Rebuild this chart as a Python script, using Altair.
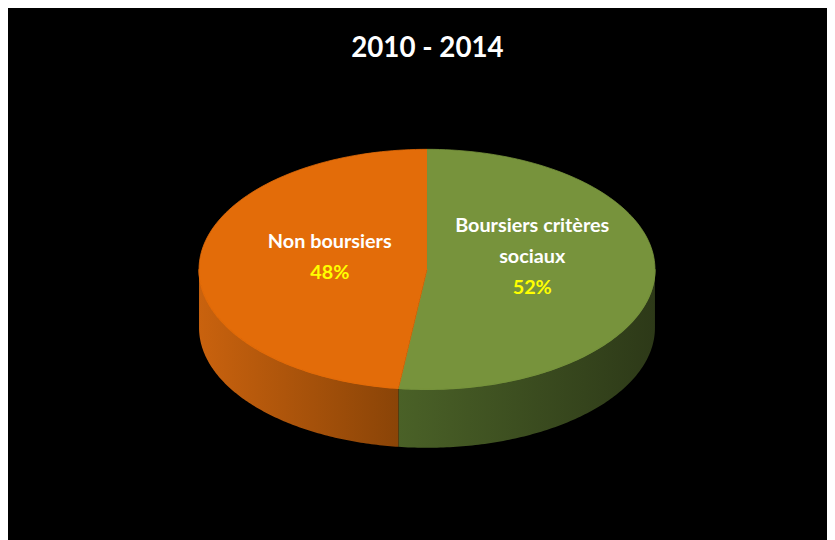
import altair as alt
import pandas as pd

# ---- data ----
categories = ["Boursiers critères sociaux", "Non boursiers"]
values = [52, 48]
label_lines = ["Boursiers critères|sociaux", "Non boursiers"]

# ---- style ----
top_colors = ["#77933C", "#E36C09"]
rim_colors = ["#8DAA50", "#F58A33"]
side_gradients = {
    "Boursiers critères sociaux": ["#4A6127", "#2D3918"],
    "Non boursiers": ["#C9620E", "#8A4407"],
}
FONT = "Lato, Roboto, sans-serif"

# geometry of the tilted pie (reference pixels)
CX, CY, RX, RY, DEPTH = 427, 269, 228, 119, 58
N = 120
S = 835 / 843          # page is shrunk to the window width
VIEW_TOP = 75          # layout y of the plot area's top

df = pd.DataFrame({"category": categories, "value": values,
                   "label": label_lines, "order": list(range(len(categories)))})

xs = alt.Scale(domain=[8 * S, 835 * S], zero=False, nice=False)
ys = alt.Scale(domain=[VIEW_TOP * S, 540 * S], reverse=True, zero=False, nice=False)

base = alt.Chart(df).transform_joinaggregate(
    total="sum(value)"
).transform_window(
    cum="sum(value)", sort=[alt.SortField("order")], frame=[None, 0]
).transform_calculate(
    a1="2*PI*datum.cum/datum.total",
    a0="2*PI*(datum.cum-datum.value)/datum.total",
)

front = base.transform_calculate(
    s0="max(datum.a0, PI/2)", s1="min(datum.a1, 3*PI/2)"
).transform_filter("datum.s1 > datum.s0")

# side (front wall) of each slice
side_base = front.transform_calculate(
    k=f"sequence(0, {2 * N + 2})"
).transform_flatten(["k"]).transform_calculate(
    j=f"datum.k <= {N} ? datum.k : {2 * N + 1} - datum.k",
).transform_calculate(
    t=f"datum.s0 + (datum.s1 - datum.s0) * datum.j / {N}",
).transform_calculate(
    px=f"{CX} + {RX} * sin(datum.t)",
    py=f"{CY} - {RY} * cos(datum.t) + (datum.k <= {N} ? 0 : {DEPTH})",
)

enc_xy = dict(x=alt.X("px:Q", scale=xs, axis=None), y=alt.Y("py:Q", scale=ys, axis=None))

side_layers = []
for cat in categories:
    c0, c1 = side_gradients[cat]
    side_layers.append(
        side_base.transform_filter(alt.datum.category == cat).mark_line(
            filled=True,
            fill=alt.Gradient(gradient="linear", x1=0, x2=1, y1=0, y2=0,
                              stops=[alt.GradientStop(color=c0, offset=0),
                                     alt.GradientStop(color=c1, offset=1)]),
            strokeWidth=0,
        ).encode(order=alt.Order("k:Q"), detail="category:N", **enc_xy)
    )

# top face
top = base.transform_calculate(
    i=f"sequence(-1, {N + 1})"
).transform_flatten(["i"]).transform_calculate(
    t=f"datum.a0 + (datum.a1 - datum.a0) * max(datum.i, 0) / {N}",
).transform_calculate(
    px=f"datum.i < 0 ? {CX} : {CX} + {RX} * sin(datum.t)",
    py=f"datum.i < 0 ? {CY} : {CY} - {RY} * cos(datum.t)",
).mark_line(filled=True, strokeWidth=0.8).encode(
    order=alt.Order("i:Q"),
    color=alt.Color("category:N", scale=alt.Scale(domain=categories, range=top_colors), legend=None),
    stroke=alt.Stroke("category:N", scale=alt.Scale(domain=categories, range=top_colors), legend=None),
    **enc_xy,
)

# light rim along the front edge of the top face
rim = front.transform_calculate(
    k=f"sequence(0, {N + 1})"
).transform_flatten(["k"]).transform_calculate(
    t=f"datum.s0 + (datum.s1 - datum.s0) * datum.k / {N}",
).transform_calculate(
    px=f"{CX} + {RX} * sin(datum.t)",
    py=f"{CY} - {RY} * cos(datum.t)",
).mark_line(strokeWidth=1.3, opacity=0.9).encode(
    order=alt.Order("k:Q"),
    color=alt.Color("category:N", scale=alt.Scale(domain=categories, range=rim_colors), legend=None),
    **enc_xy,
)

# labels
LH = 31
lab = base.transform_calculate(
    mid="(datum.a0 + datum.a1) / 2",
    n="length(split(datum.label, '|'))",
).transform_calculate(
    lx=f"{CX} + 4 + {RX} * 0.445 * sin(datum.mid)",
    ly0=f"{CY} - 12 - datum.n * {LH} / 2",
).transform_calculate(
    ly1=f"datum.ly0 + datum.n * {LH}",
    pct="format(datum.value / datum.total, '.0%')",
)

name_text = lab.mark_text(font=FONT, fontSize=20, fontWeight="bold", color="white",
                          lineBreak="|", lineHeight=LH, baseline="middle", align="center").encode(
    x=alt.X("lx:Q", scale=xs, axis=None),
    y=alt.Y("ly0:Q", scale=ys, axis=None),
    text="label:N",
)
pct_text = lab.mark_text(font=FONT, fontSize=20, fontWeight="bold", color="#FFFF00",
                         baseline="middle", align="center").encode(
    x=alt.X("lx:Q", scale=xs, axis=None),
    y=alt.Y("ly1:Q", scale=ys, axis=None),
    text="pct:N",
)

chart = alt.layer(*side_layers, top, rim, name_text, pct_text).properties(
    width=827, height=532,
    autosize=alt.AutoSizeParams(type="fit", contains="padding"),
    padding={"top": 25, "left": 0, "right": 0, "bottom": 0},
    background="black",
    title=alt.TitleParams("2010 - 2014", font=FONT, fontSize=28, fontWeight="bold",
                          color="white", anchor="middle", offset=10, dx=10),
).configure_view(stroke=None)

chart.save("out.html", embed_options={"renderer": "svg", "actions": False})
